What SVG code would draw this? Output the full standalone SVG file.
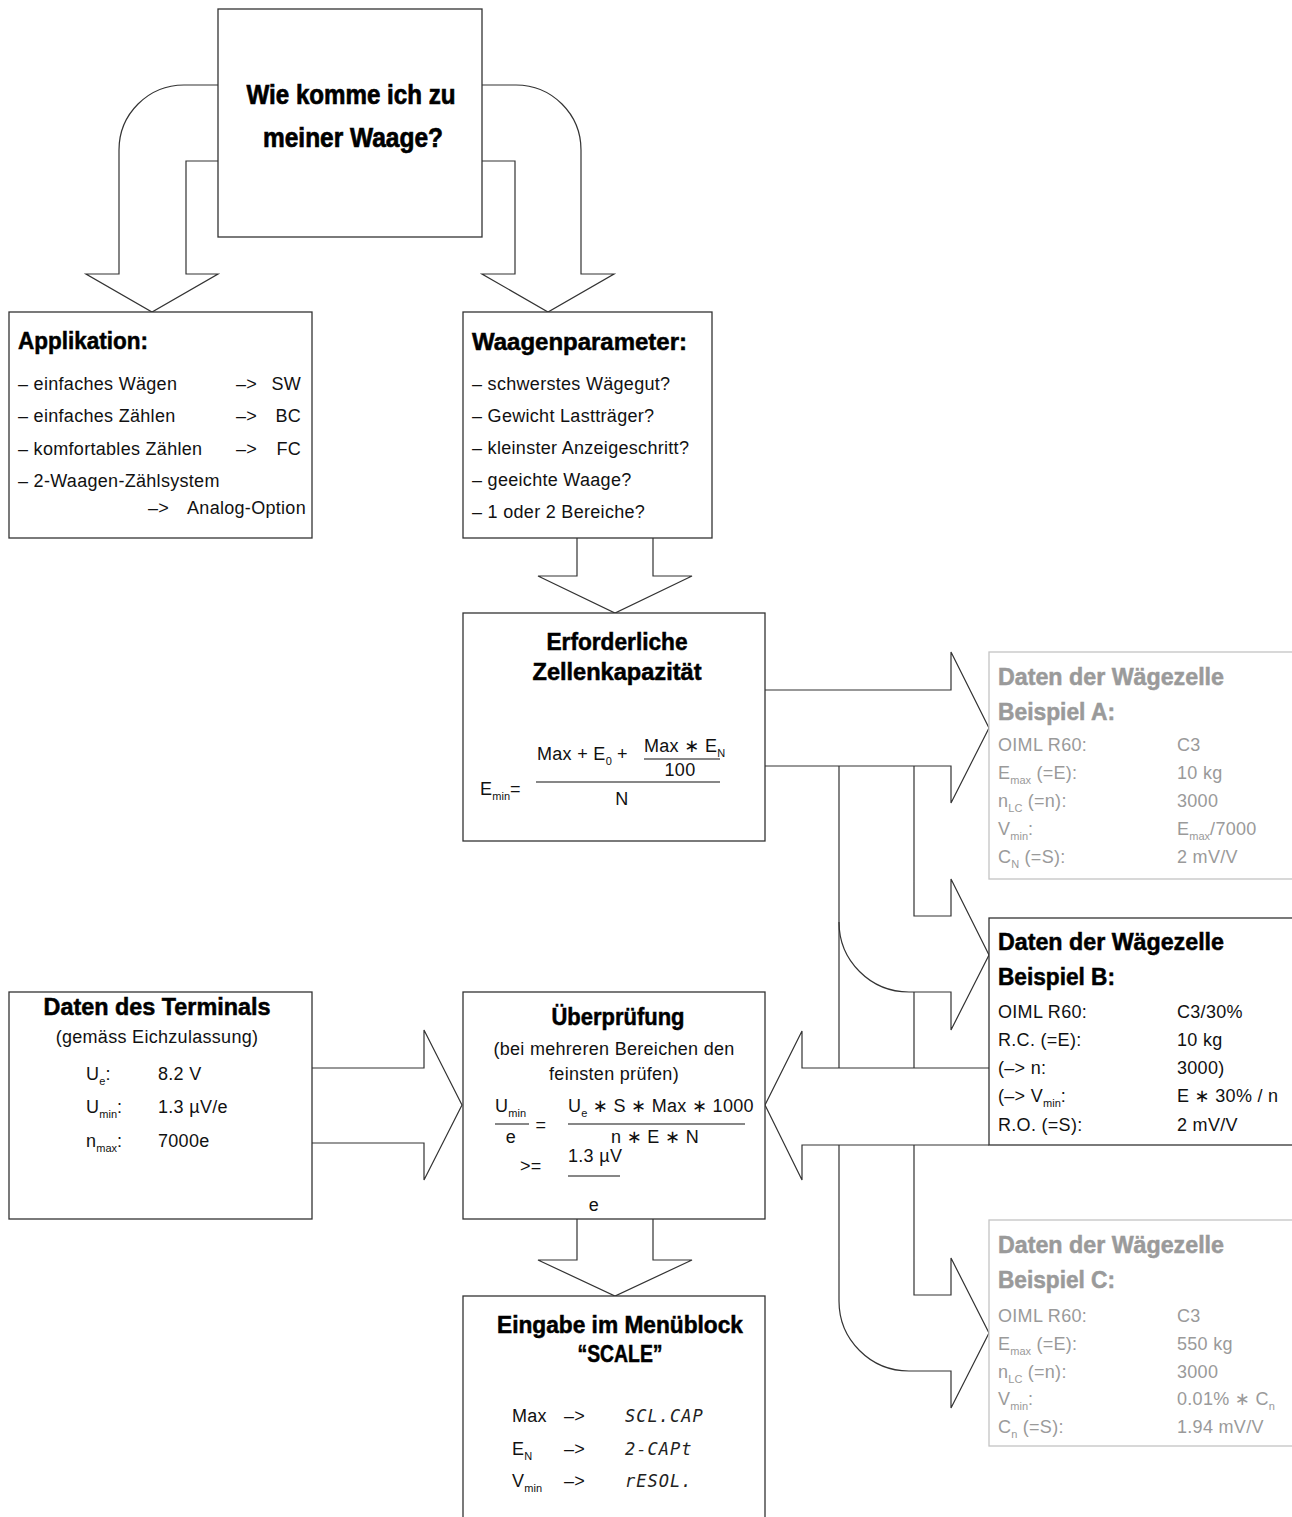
<svg xmlns="http://www.w3.org/2000/svg" width="1292" height="1517" viewBox="0 0 1292 1517">
<style>
.box{fill:#fff;stroke:#333;stroke-width:1.3}
.gbox{fill:#fff;stroke:#c4c4c4;stroke-width:1.3}
.conn path{fill:none;stroke:#333;stroke-width:1.2}
.conn path.cover{fill:#fff}
.h{font-family:"Liberation Sans",Arial,sans-serif;font-weight:bold;font-size:23px;fill:#000;stroke:#000;stroke-width:0.5}
.t{font-family:"Liberation Sans","DejaVu Sans",Arial,sans-serif;font-size:18px;fill:#111;letter-spacing:0.3px}
.g{fill:#9a9a9a}
.h.g{stroke:#9a9a9a}
.s{font-size:11px;letter-spacing:0}
.lcd{font-family:"DejaVu Sans Mono",monospace;font-style:italic;font-size:17px;fill:#222;letter-spacing:1px}
.ln{stroke:#111;stroke-width:1.2}
</style>
<rect width="1292" height="1517" fill="#fff"/>
<g id="connectors" class="conn">
<path d="M218,85 H184 A65,65 0 0 0 119,150 V274 H86 L152,312 L218,274 H186 V161 H218"/>
<path d="M482,85 H516 A65,65 0 0 1 581,150 V274 H614 L548,312 L482,274 H515 V161 H482"/>
<path d="M577,538 V576 H538 L615,613 L692,576 H653 V538"/>
<path d="M577,1219 V1260 H538 L615,1296 L692,1260 H653 V1219"/>
<path d="M765,690 H951 V652 L989,728 L951,803 V766 H765"/>
<path d="M914,766 V916 H951 V879 L989,955 L951,1030 V992 H909 A70,70 0 0 1 839,922"/>
<path d="M839,766 V1301 A70,70 0 0 0 909,1371 H951 V1408 L989,1333 L951,1258 V1295 H914 V992"/>
<path d="M312,1068 H424 V1030 L462,1105 L424,1180 V1143 H312"/>
<path class="cover" d="M989,1068 H802 V1031 L765,1105 L802,1180 V1145 H989"/>
</g>
<g id="title">
<rect class="box" x="218" y="9" width="264" height="228"/>
<text class="h" style="font-size:28px;stroke-width:0.7" x="351" y="104" text-anchor="middle" textLength="209" lengthAdjust="spacingAndGlyphs">Wie komme ich zu</text>
<text class="h" style="font-size:28px;stroke-width:0.7" x="353" y="147" text-anchor="middle" textLength="180" lengthAdjust="spacingAndGlyphs">meiner Waage?</text>
</g>
<g id="applikation">
<rect class="box" x="9" y="312" width="303" height="226"/>
<text class="h" x="18" y="349" textLength="130" lengthAdjust="spacingAndGlyphs">Applikation:</text>
<text class="t" x="18" y="390">– einfaches Wägen</text>
<text class="t" x="236" y="390">–&gt;</text><text class="t" x="301" y="390" text-anchor="end">SW</text>
<text class="t" x="18" y="422">– einfaches Zählen</text>
<text class="t" x="236" y="422">–&gt;</text><text class="t" x="301" y="422" text-anchor="end">BC</text>
<text class="t" x="18" y="455">– komfortables Zählen</text>
<text class="t" x="236" y="455">–&gt;</text><text class="t" x="301" y="455" text-anchor="end">FC</text>
<text class="t" x="18" y="487">– 2-Waagen-Zählsystem</text>
<text class="t" x="148" y="514">–&gt;</text><text class="t" x="306" y="514" text-anchor="end">Analog-Option</text>
</g>
<g id="waagenparameter">
<rect class="box" x="463" y="312" width="249" height="226"/>
<text class="h" x="472" y="350" textLength="215" lengthAdjust="spacingAndGlyphs">Waagenparameter:</text>
<text class="t" x="472" y="390">– schwerstes Wägegut?</text>
<text class="t" x="472" y="422">– Gewicht Lastträger?</text>
<text class="t" x="472" y="454">– kleinster Anzeigeschritt?</text>
<text class="t" x="472" y="486">– geeichte Waage?</text>
<text class="t" x="472" y="518">– 1 oder 2 Bereiche?</text>
</g>
<g id="zellenkapazitaet">
<rect class="box" x="463" y="613" width="302" height="228"/>
<text class="h" x="617" y="650" text-anchor="middle" textLength="141" lengthAdjust="spacingAndGlyphs">Erforderliche</text>
<text class="h" x="617" y="680" text-anchor="middle" textLength="169" lengthAdjust="spacingAndGlyphs">Zellenkapazität</text>
<text class="t" x="480" y="795">E<tspan class="s" dy="5">min</tspan><tspan dy="-5">=</tspan></text>
<text class="t" x="537" y="760">Max + E<tspan class="s" dy="5">0</tspan><tspan dy="-5"> +</tspan></text>
<text class="t" x="644" y="752">Max ∗ E<tspan class="s" dy="5">N</tspan></text>
<line class="ln" x1="644" y1="759" x2="720" y2="759"/>
<text class="t" x="680" y="776" text-anchor="middle">100</text>
<line class="ln" x1="536" y1="782" x2="720" y2="782"/>
<text class="t" x="622" y="805" text-anchor="middle">N</text>
</g>
<g id="beispiel-a">
<rect class="gbox" x="989" y="652" width="400" height="227"/>
<text class="h g" x="998" y="685" textLength="226" lengthAdjust="spacingAndGlyphs">Daten der Wägezelle</text>
<text class="h g" x="998" y="720" textLength="117" lengthAdjust="spacingAndGlyphs">Beispiel A:</text>
<text class="t g" x="998" y="751">OIML R60:</text><text class="t g" x="1177" y="751">C3</text>
<text class="t g" x="998" y="779">E<tspan class="s" dy="5">max</tspan><tspan dy="-5"> (=E):</tspan></text><text class="t g" x="1177" y="779">10 kg</text>
<text class="t g" x="998" y="807">n<tspan class="s" dy="5">LC</tspan><tspan dy="-5"> (=n):</tspan></text><text class="t g" x="1177" y="807">3000</text>
<text class="t g" x="998" y="835">V<tspan class="s" dy="5">min</tspan><tspan dy="-5">:</tspan></text><text class="t g" x="1177" y="835">E<tspan class="s" dy="5">max</tspan><tspan dy="-5">/7000</tspan></text>
<text class="t g" x="998" y="863">C<tspan class="s" dy="5">N</tspan><tspan dy="-5"> (=S):</tspan></text><text class="t g" x="1177" y="863">2 mV/V</text>
</g>
<g id="beispiel-b">
<rect class="box" x="989" y="918" width="400" height="227"/>
<text class="h" x="998" y="950" textLength="226" lengthAdjust="spacingAndGlyphs">Daten der Wägezelle</text>
<text class="h" x="998" y="985" textLength="117" lengthAdjust="spacingAndGlyphs">Beispiel B:</text>
<text class="t" x="998" y="1018">OIML R60:</text><text class="t" x="1177" y="1018">C3/30%</text>
<text class="t" x="998" y="1046">R.C. (=E):</text><text class="t" x="1177" y="1046">10 kg</text>
<text class="t" x="998" y="1074">(–&gt; n:</text><text class="t" x="1177" y="1074">3000)</text>
<text class="t" x="998" y="1102">(–&gt; V<tspan class="s" dy="5">min</tspan><tspan dy="-5">:</tspan></text><text class="t" x="1177" y="1102">E ∗ 30% / n</text>
<text class="t" x="998" y="1131">R.O. (=S):</text><text class="t" x="1177" y="1131">2 mV/V</text>
</g>
<g id="beispiel-c">
<rect class="gbox" x="989" y="1220" width="400" height="226"/>
<text class="h g" x="998" y="1253" textLength="226" lengthAdjust="spacingAndGlyphs">Daten der Wägezelle</text>
<text class="h g" x="998" y="1288" textLength="117" lengthAdjust="spacingAndGlyphs">Beispiel C:</text>
<text class="t g" x="998" y="1322">OIML R60:</text><text class="t g" x="1177" y="1322">C3</text>
<text class="t g" x="998" y="1350">E<tspan class="s" dy="5">max</tspan><tspan dy="-5"> (=E):</tspan></text><text class="t g" x="1177" y="1350">550 kg</text>
<text class="t g" x="998" y="1378">n<tspan class="s" dy="5">LC</tspan><tspan dy="-5"> (=n):</tspan></text><text class="t g" x="1177" y="1378">3000</text>
<text class="t g" x="998" y="1405">V<tspan class="s" dy="5">min</tspan><tspan dy="-5">:</tspan></text><text class="t g" x="1177" y="1405">0.01% ∗ C<tspan class="s" dy="5">n</tspan></text>
<text class="t g" x="998" y="1433">C<tspan class="s" dy="5">n</tspan><tspan dy="-5"> (=S):</tspan></text><text class="t g" x="1177" y="1433">1.94 mV/V</text>
</g>
<g id="terminal">
<rect class="box" x="9" y="992" width="303" height="227"/>
<text class="h" x="157" y="1015" text-anchor="middle" textLength="227" lengthAdjust="spacingAndGlyphs">Daten des Terminals</text>
<text class="t" x="157" y="1043" text-anchor="middle">(gemäss Eichzulassung)</text>
<text class="t" x="86" y="1080">U<tspan class="s" dy="5">e</tspan><tspan dy="-5">:</tspan></text><text class="t" x="158" y="1080">8.2 V</text>
<text class="t" x="86" y="1113">U<tspan class="s" dy="5">min</tspan><tspan dy="-5">:</tspan></text><text class="t" x="158" y="1113">1.3 µV/e</text>
<text class="t" x="86" y="1147">n<tspan class="s" dy="5">max</tspan><tspan dy="-5">:</tspan></text><text class="t" x="158" y="1147">7000e</text>
</g>
<g id="ueberpruefung">
<rect class="box" x="463" y="992" width="302" height="227"/>
<text class="h" x="618" y="1025" text-anchor="middle" textLength="133" lengthAdjust="spacingAndGlyphs">Überprüfung</text>
<text class="t" x="614" y="1055" text-anchor="middle">(bei mehreren Bereichen den</text>
<text class="t" x="614" y="1080" text-anchor="middle">feinsten prüfen)</text>
<text class="t" x="495" y="1112">U<tspan class="s" dy="5">min</tspan></text>
<line class="ln" x1="495" y1="1124" x2="529" y2="1124"/>
<text class="t" x="511" y="1143" text-anchor="middle">e</text>
<text class="t" x="541" y="1131" text-anchor="middle">=</text>
<text class="t" x="568" y="1112">U<tspan class="s" dy="5">e</tspan><tspan dy="-5"> ∗ S ∗ Max ∗ 1000</tspan></text>
<line class="ln" x1="568" y1="1124" x2="745" y2="1124"/>
<text class="t" x="655" y="1143" text-anchor="middle">n ∗ E ∗ N</text>
<text class="t" x="520" y="1172">&gt;=</text>
<text class="t" x="568" y="1162">1.3 µV</text>
<line class="ln" x1="568" y1="1176" x2="620" y2="1176"/>
<text class="t" x="594" y="1211" text-anchor="middle">e</text>
</g>
<g id="eingabe">
<rect class="box" x="463" y="1296" width="302" height="240"/>
<text class="h" x="620" y="1333" text-anchor="middle" textLength="246" lengthAdjust="spacingAndGlyphs">Eingabe im Menüblock</text>
<text class="h" x="620" y="1362" text-anchor="middle" textLength="85" lengthAdjust="spacingAndGlyphs">“SCALE”</text>
<text class="t" x="512" y="1422">Max</text><text class="t" x="564" y="1422">–&gt;</text><text class="lcd" x="625" y="1422">SCL.CAP</text>
<text class="t" x="512" y="1455">E<tspan class="s" dy="5">N</tspan></text><text class="t" x="564" y="1455">–&gt;</text><text class="lcd" x="625" y="1455">2-CAPt</text>
<text class="t" x="512" y="1487">V<tspan class="s" dy="5">min</tspan></text><text class="t" x="564" y="1487">–&gt;</text><text class="lcd" x="625" y="1487">rESOL.</text>
</g>
</svg>
